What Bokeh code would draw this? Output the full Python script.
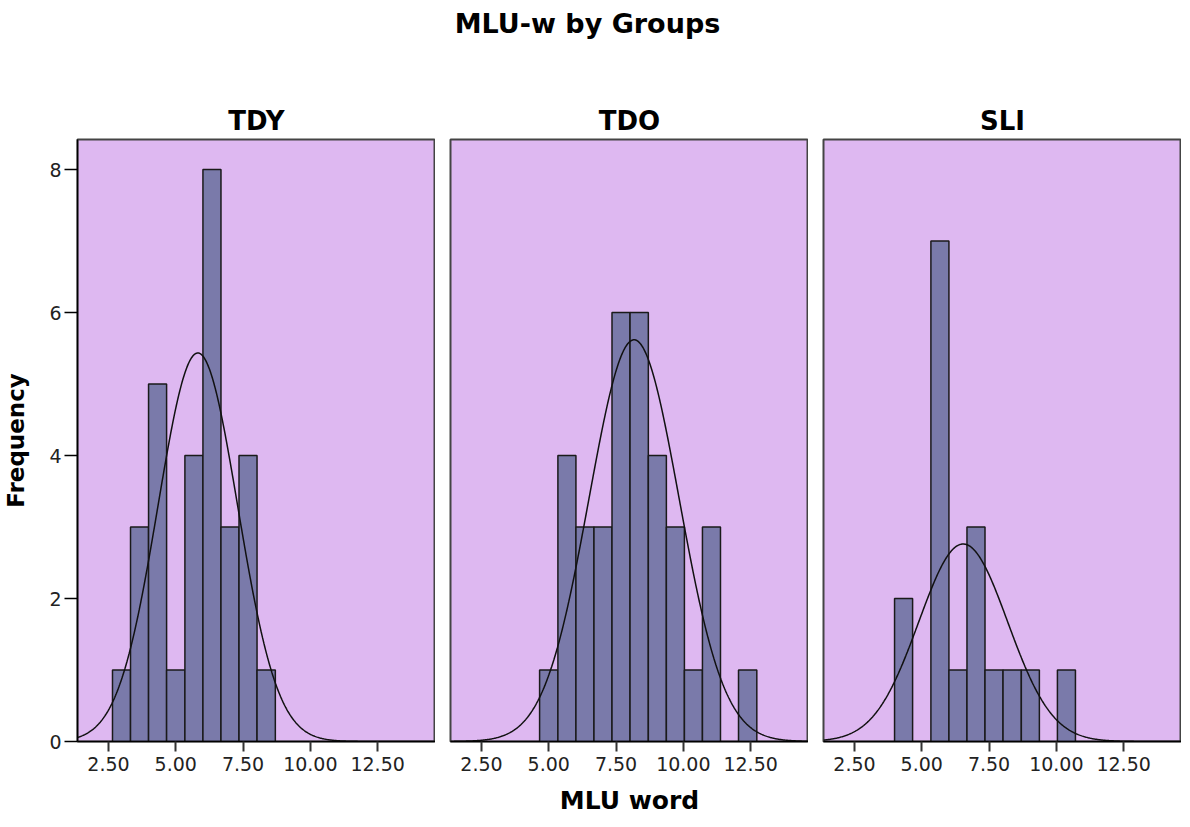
import numpy as np
from bokeh.plotting import figure
from bokeh.layouts import column, row
from bokeh.models import Range1d, FixedTicker, NumeralTickFormatter
from bokeh.embed import file_html
from bokeh.resources import INLINE

# ---------------- data ----------------
chart_title = "MLU-w by Groups"
groups = ["TDY", "TDO", "SLI"]
bin_edges = [2.65, 3.32, 3.99, 4.66, 5.34, 6.01, 6.68, 7.35, 8.02, 8.70,
             9.37, 10.04, 10.71, 11.38, 12.05, 12.73]
counts_tdy = [1, 3, 5, 1, 4, 8, 3, 4, 1, 0, 0, 0, 0, 0, 0]
counts_tdo = [0, 0, 0, 1, 4, 3, 3, 6, 6, 4, 3, 1, 3, 0, 1]
counts_sli = [0, 0, 2, 0, 7, 1, 3, 1, 1, 1, 0, 1, 0, 0, 0]
fit_mean = [5.82, 8.17, 6.54]
fit_sd = [1.48, 1.67, 1.65]
fit_n = [30, 35, 17]
x_ticks = [2.5, 5.0, 7.5, 10.0, 12.5]
y_ticks = [0, 2, 4, 6, 8]
x_label = "MLU word"
y_label = "Frequency"
x_min, x_max = 1.35, 14.65
y_min, y_max = 0, 8.42

all_counts = [counts_tdy, counts_tdo, counts_sli]

FONT = "DejaVu Sans"
BG = "#DEB8F1"
BAR = "#7A7AAA"

bin_width = (bin_edges[-1] - bin_edges[0]) / (len(bin_edges) - 1)


def make_panel(i):
    first = i == 0
    p = figure(
        frame_width=358, frame_height=602,
        x_range=Range1d(x_min, x_max), y_range=Range1d(y_min, y_max),
        output_backend="svg", toolbar_location=None,
        y_axis_location="left" if first else None,
        min_border_left=0 if first else 15, min_border_right=0,
        min_border_top=0, min_border_bottom=0,
    )
    p.title.text = groups[i]
    p.title.align = "center"
    p.title.text_font = FONT
    p.title.text_font_size = "26px"
    p.title.text_font_style = "bold"
    p.title.text_color = "black"
    p.title.standoff = 7
    p.background_fill_color = BG
    p.border_fill_color = "white"
    p.outline_line_color = "#444444"
    p.outline_line_width = 2
    p.grid.visible = False

    xa = p.xaxis[0]
    xa.ticker = FixedTicker(ticks=x_ticks)
    xa.formatter = NumeralTickFormatter(format="0.00")
    xa.major_tick_out = 10
    xa.major_tick_in = 0
    xa.major_tick_line_width = 2
    xa.major_tick_line_color = "#333333"
    xa.minor_tick_line_color = None
    xa.axis_line_color = "black"
    xa.axis_line_width = 1.5
    xa.major_label_text_font = FONT
    xa.major_label_text_font_size = "19px"
    xa.major_label_text_color = "#222222"
    xa.major_label_standoff = 5
    if i == 1:
        xa.axis_label = x_label
        xa.axis_label_text_font = FONT
        xa.axis_label_text_font_size = "25px"
        xa.axis_label_text_font_style = "bold"
        xa.axis_label_text_color = "black"
        xa.axis_label_standoff = 12

    if first:
        ya = p.yaxis[0]
        ya.ticker = FixedTicker(ticks=y_ticks)
        ya.major_tick_out = 13
        ya.major_tick_in = 0
        ya.major_tick_line_width = 1.5
        ya.major_tick_line_color = "black"
        ya.minor_tick_line_color = None
        ya.axis_line_color = "black"
        ya.axis_line_width = 1.5
        ya.major_label_text_font = FONT
        ya.major_label_text_font_size = "19px"
        ya.major_label_text_color = "#222222"
        ya.major_label_standoff = 3
        ya.major_label_orientation = "horizontal"
        ya.axis_label = y_label
        ya.axis_label_text_font = FONT
        ya.axis_label_text_font_size = "23px"
        ya.axis_label_text_font_style = "bold"
        ya.axis_label_text_color = "black"
        ya.axis_label_standoff = 17

    cnt = all_counts[i]
    lefts = [bin_edges[k] for k in range(len(cnt)) if cnt[k] > 0]
    rights = [bin_edges[k + 1] for k in range(len(cnt)) if cnt[k] > 0]
    tops = [c for c in cnt if c > 0]
    p.quad(left=lefts, right=rights, bottom=0, top=tops,
           fill_color=BAR, line_color="#1a1a1a", line_width=1.5)

    xs = np.linspace(x_min, x_max, 500)
    m, s, n = fit_mean[i], fit_sd[i], fit_n[i]
    ys = n * bin_width / (s * np.sqrt(2 * np.pi)) * np.exp(-0.5 * ((xs - m) / s) ** 2)
    p.line(xs, ys, line_color="#111111", line_width=1.5)
    return p


panels = [make_panel(i) for i in range(3)]

head = figure(width=1174, height=100, output_backend="svg", toolbar_location=None,
              x_axis_location=None, y_axis_location=None,
              min_border_left=0, min_border_right=0, min_border_top=0, min_border_bottom=0)
head.outline_line_color = None
head.grid.visible = False
head.title.text = chart_title
head.title.align = "center"
head.title.text_font = FONT
head.title.text_font_size = "27px"
head.title.text_font_style = "bold"
head.title.text_color = "black"

layout = column(head, row(*panels, spacing=0), spacing=0)

open("out.html", "w").write(file_html(layout, INLINE))
